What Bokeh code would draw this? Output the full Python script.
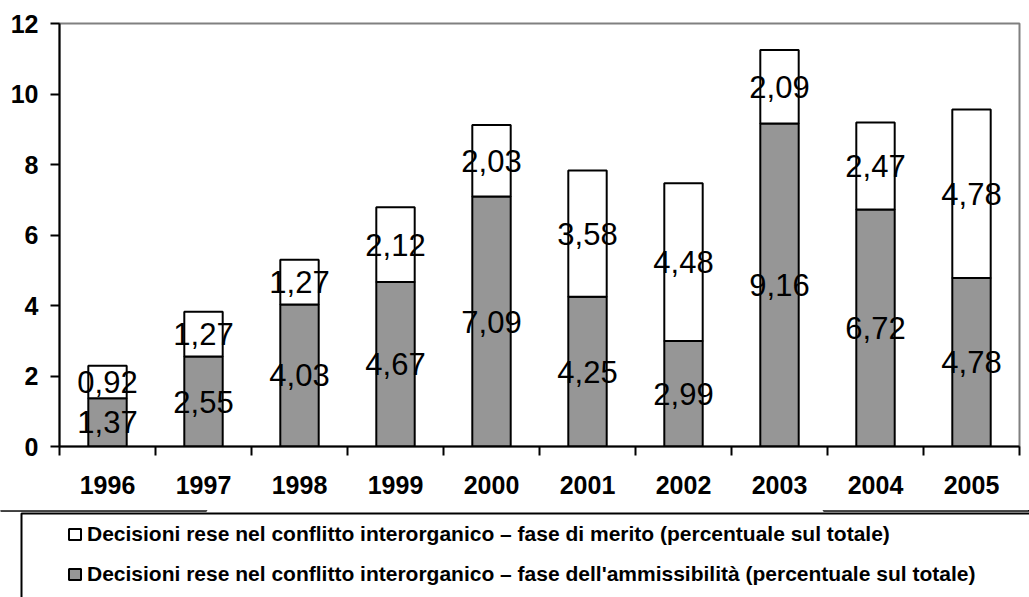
from bokeh.plotting import figure
from bokeh.models import (ColumnDataSource, FixedTicker, Legend, LegendItem,
                          BoxAnnotation, Range1d)
from bokeh.core.properties import value
from bokeh.embed import file_html
from bokeh.resources import INLINE

years = ["1996", "1997", "1998", "1999", "2000", "2001", "2002", "2003", "2004", "2005"]
ammissibilita = [1.37, 2.55, 4.03, 4.67, 7.09, 4.25, 2.99, 9.16, 6.72, 4.78]
merito = [0.92, 1.27, 1.27, 2.12, 2.03, 3.58, 4.48, 2.09, 2.47, 4.78]
y_ticks = [0, 2, 4, 6, 8, 10, 12]

label_merito = "Decisioni rese nel conflitto interorganico \u2013 fase di merito (percentuale sul totale)"
label_amm = "Decisioni rese nel conflitto interorganico \u2013 fase dell'ammissibilit\u00e0 (percentuale sul totale)"

FONT = "Liberation Sans"
GREY = "#969696"

x = list(range(len(years)))
top_mer = [a + m for a, m in zip(ammissibilita, merito)]

src = ColumnDataSource(dict(
    x=x,
    amm=ammissibilita,
    mer_bottom=ammissibilita,
    mer_top=top_mer,
    amm_mid=[a / 2 for a in ammissibilita],
    mer_mid=[a + m / 2 for a, m in zip(ammissibilita, merito)],
    amm_lbl=[f"{v:.2f}".replace(".", ",") for v in ammissibilita],
    mer_lbl=[f"{v:.2f}".replace(".", ",") for v in merito],
))

p = figure(width=1029, height=510, output_backend="svg", toolbar_location=None,
           x_range=Range1d(-0.5, len(years) - 0.5), y_range=Range1d(0, 12),
           min_border_left=59, min_border_right=10, min_border_top=23,
           min_border_bottom=64)
p.background_fill_color = "white"
p.border_fill_color = "white"
p.outline_line_color = "#808080"
p.outline_line_width = 2
p.grid.visible = False

r_amm = p.vbar(x="x", bottom=0, top="amm", width=0.4, source=src,
               fill_color=GREY, line_color="black", line_width=2)
r_mer = p.vbar(x="x", bottom="mer_bottom", top="mer_top", width=0.4, source=src,
               fill_color="white", line_color="black", line_width=2)

p.text(x="x", y="amm_mid", text="amm_lbl", source=src, text_align="center",
       text_baseline="middle", text_font=value(FONT), text_font_size="31px",
       text_color="black")
p.text(x="x", y="mer_mid", text="mer_lbl", source=src, text_align="center",
       text_baseline="middle", text_font=value(FONT), text_font_size="31px",
       text_color="black")

# x axis: labels at centres, tick marks at category boundaries
xa = p.xaxis[0]
xa.ticker = FixedTicker(ticks=x, minor_ticks=[i - 0.5 for i in range(len(years) + 1)])
xa.major_label_overrides = {i: y for i, y in zip(x, years)}
xa.major_tick_line_color = None
xa.major_tick_out = 9
xa.major_tick_in = 0
xa.minor_tick_line_color = "black"
xa.minor_tick_line_width = 2
xa.minor_tick_out = 9
xa.minor_tick_in = 0
xa.axis_line_color = "black"
xa.axis_line_width = 2
xa.major_label_text_font = FONT
xa.major_label_text_font_style = "bold"
xa.major_label_text_font_size = "25px"
xa.major_label_text_color = "black"
xa.major_label_standoff = 20

ya = p.yaxis[0]
ya.ticker = FixedTicker(ticks=y_ticks)
ya.minor_tick_line_color = None
ya.major_tick_line_color = "black"
ya.major_tick_line_width = 2
ya.major_tick_out = 9
ya.major_tick_in = 0
ya.axis_line_color = "black"
ya.axis_line_width = 2
ya.major_label_text_font = FONT
ya.major_label_text_font_style = "bold"
ya.major_label_text_font_size = "25px"
ya.major_label_text_color = "black"
ya.major_label_standoff = 12

# legend panel below the chart (separate root, frame = whole canvas).
# Its y-range lies below zero, so the series bars drawn here stay out of view
# and only serve as legend swatches.
p2 = figure(width=1029, height=87, output_backend="svg", toolbar_location=None,
            x_range=Range1d(0, 1), y_range=Range1d(-2, -1),
            x_axis_location=None, y_axis_location=None,
            min_border=0, min_border_left=0, min_border_right=0,
            min_border_top=0, min_border_bottom=0)
p2.outline_line_color = None
p2.grid.visible = False
p2.background_fill_color = "white"
p2.border_fill_color = "white"

l_amm = p2.vbar(x="x", bottom=0, top="amm", width=0.4, source=src,
                fill_color=GREY, line_color="black", line_width=2)
l_mer = p2.vbar(x="x", bottom="mer_bottom", top="mer_top", width=0.4, source=src,
                fill_color="white", line_color="black", line_width=2)

box = BoxAnnotation(left=21, right=1400, top=3, bottom=400,
                    left_units="canvas", right_units="canvas",
                    top_units="canvas", bottom_units="canvas",
                    fill_color=None, fill_alpha=0, line_color="black",
                    line_alpha=1, line_width=2, level="overlay")
p2.add_layout(box)

legend = Legend(items=[LegendItem(label=label_merito, renderers=[l_mer]),
                       LegendItem(label=label_amm, renderers=[l_amm])],
                location=(67, 11), orientation="vertical",
                padding=0, margin=0, spacing=16,
                glyph_width=15, glyph_height=14, label_height=24,
                label_standoff=5,
                label_text_font=FONT, label_text_font_style="bold",
                label_text_font_size="21px", label_text_color="black",
                border_line_color=None, background_fill_alpha=0)
p2.add_layout(legend, "center")

open("out.html", "w").write(file_html([p, p2], INLINE))
